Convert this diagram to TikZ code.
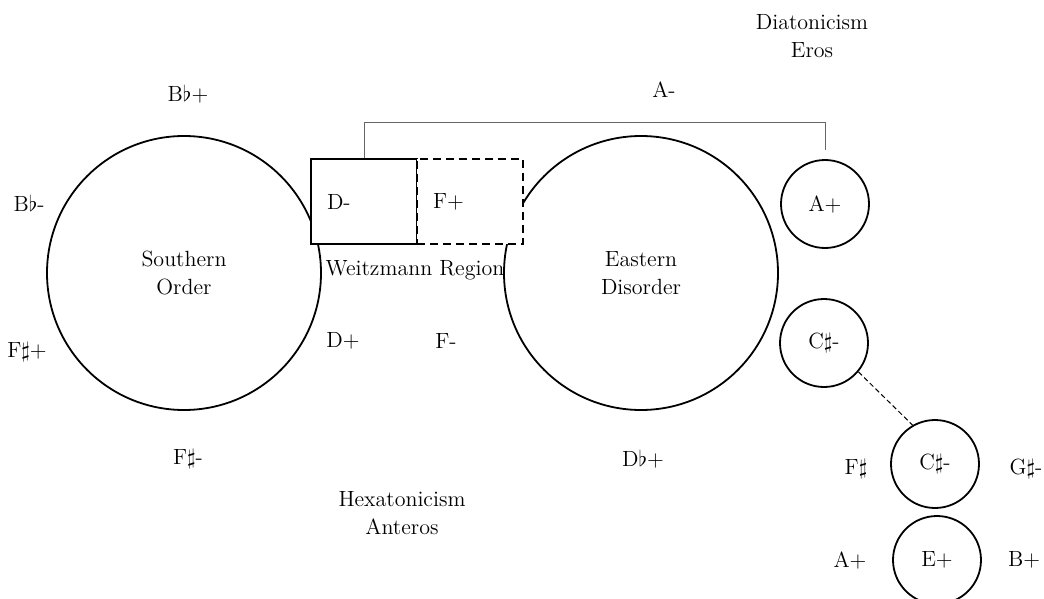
\documentclass[tikz,border=0pt]{standalone}
\usetikzlibrary{positioning}
\begin{document}
\begin{tikzpicture}[x=0.5pt, y=-0.5pt,
    lbl/.style={font=\fontsize{11}{14}\selectfont, align=center},
    big/.style={circle, draw, line width=0.9pt, minimum size=137pt,
                inner sep=0pt, lbl},
    small/.style={circle, draw, line width=0.9pt, minimum size=44pt,
                  inner sep=0pt, lbl},
    box/.style={rectangle, draw, fill=white, line width=0.7pt,
                minimum height=42.5pt, text width=37pt, inner xsep=8pt,
                inner ysep=0pt, align=left, font=\fontsize{11}{14}\selectfont},
    brk/.style={draw=black!60, line width=0.5pt}
  ]
  \useasboundingbox (0,0) rectangle (1044,599);

  % the two big regions
  \node[big] (so) at (184,273) {Southern\\Order};
  \node[big] (ed) at (641,273) {Eastern\\Disorder};

  % Weitzmann boxes
  \node[box] (dm) at (364,201.5) {D-};
  \node[box, dash pattern=on 4pt off 2.5pt] (fp) at (470,201.5) {F+};
  \node[lbl] (wr) at (415,270) {Weitzmann Region};

  % small circles on the right
  \node[small] (ap) at (825,204) {A+};
  \node[small] (cs1) at (824,343) {C$\sharp$-};
  \node[small] (cs2) at (935,464) {C$\sharp$-};
  \node[small] (ep) at (937,560) {E+};

  % bracket and link
  \draw[brk] (dm.north) -- (dm.north |- 0,123) -| ([yshift=4.5pt]ap.north);
  \draw[line width=0.5pt, dash pattern=on 2.5pt off 1.5pt] (cs1.-40) -- (cs2.120);

  % chord labels
  \foreach \n/\t/\x/\y in {bbp/{B$\flat$+}/188/94, bbm/{B$\flat$-}/29/203,
      fsp/{F$\sharp$+}/27/352, fsm/{F$\sharp$-}/188/459,
      dbp/{D$\flat$+}/643/459, am/{A-}/664/90,
      dp/{D+}/343/341, fm/{F-}/446/341,
      fs/{F$\sharp$}/856/469, gsm/{G$\sharp$-}/1026/469,
      apl/{A+}/850/560, bp/{B+}/1024/560} {
    \node[lbl] (\n) at (\x,\y) {\t};
  }
  \node[lbl] (dia) at (812,36) {Diatonicism\\Eros};
  \node[lbl] (hex) at (402,513) {Hexatonicism\\Anteros};
\end{tikzpicture}
\end{document}
